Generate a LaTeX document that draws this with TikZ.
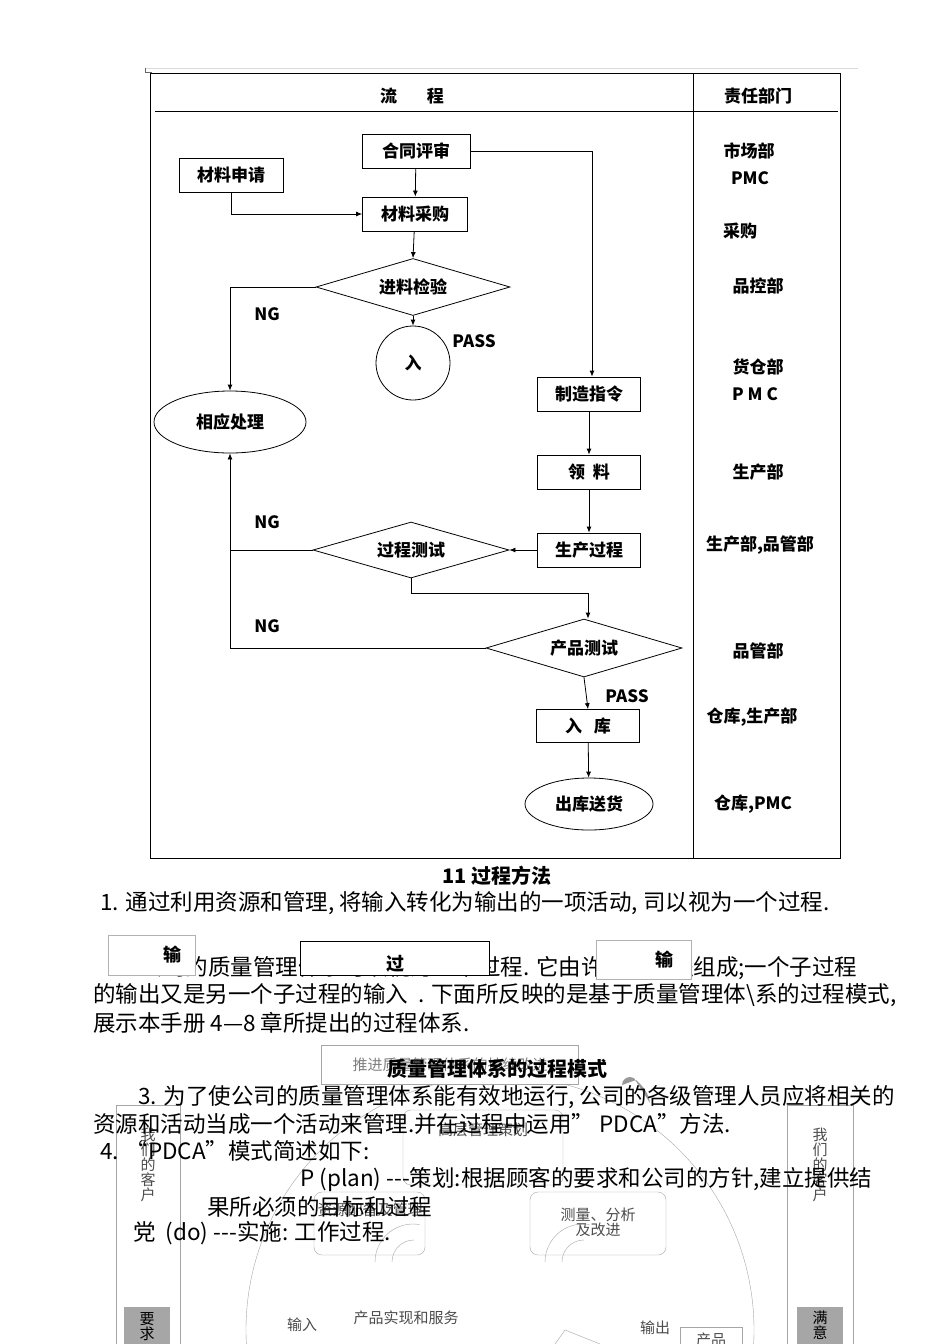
\documentclass[tikz,border=0pt]{standalone}
\usepackage{fontspec}
\setmainfont{Noto Sans CJK SC}
\newfontfamily\cjkb{Noto Sans CJK SC Black}
\usetikzlibrary{shapes.geometric,arrows.meta}
\begin{document}
\begin{tikzpicture}[x=1pt,y=-1pt,
  fc/.style={font=\cjkb\fontsize{17}{17}\selectfont},
  bx/.style={draw,thick,fc,minimum width=104pt,minimum height=34pt,inner sep=0pt},
  dm/.style={draw,thick,diamond,aspect=3.3,fc,minimum width=194pt,minimum height=57pt,inner sep=0pt},
  el/.style={draw,thick,ellipse,fc,inner sep=0pt},
  lb/.style={font=\cjkb\fontsize{17}{17}\selectfont},
  ar/.style={thick,-{Latex[length=6pt,width=5pt]}},
  ln/.style={thick},
  tx/.style={font=\fontsize{22.5}{22.5}\selectfont,anchor=west,inner sep=0pt},
  sm/.style={font=\fontsize{15}{15}\selectfont,text=black!70,inner sep=0pt},
  gr/.style={draw=black!35,thin}]
\useasboundingbox (0,0) rectangle (950,1344);
\fill[white] (0,0) rectangle (950,1344);
% frame
\draw[black!15] (145,68) -- (858,68);
\draw[black!60] (145,68) -- (145,72) -- (152,72);
\draw[thick] (150,73) rectangle (840,858);
\draw[thick] (693,73) -- (693,858);
\draw[thick] (155,111) -- (838,111);
\node[lb] (h1) at (412,96) {流\hspace{30pt}程};
\node[lb] (h2) at (758,96) {责任部门};
% nodes
\node[bx,minimum width=108pt] (ht) at (416,151) {合同评审};
\node[bx] (sq) at (231,175) {材料申请};
\node[bx,minimum width=105pt] (cg) at (415,214) {材料采购};
\node[dm] (jl) at (413,287) {进料检验};
\node[draw,thick,circle,minimum size=74pt,fc,inner sep=0pt] (ru) at (413,363) {入};
\node[el,minimum width=152pt,minimum height=62pt] (xy) at (230,422) {相应处理};
\node[bx,minimum width=103pt] (zz) at (589,394) {制造指令};
\node[bx,minimum width=103pt] (ll) at (589,472) {领\hspace{8pt}料};
\node[bx,minimum width=103pt] (sc) at (589,550) {生产过程};
\node[dm,minimum width=196pt,minimum height=56pt] (gc) at (411,550) {过程测试};
\node[dm,minimum width=196pt,minimum height=58pt] (cp) at (584,648) {产品测试};
\node[bx,minimum width=103pt,minimum height=33pt] (rk) at (588,726) {入\hspace{12pt}库};
\node[el,minimum width=128pt,minimum height=52pt] (ck) at (589,804) {出库送货};
% labels
\node[lb] (p1) at (474,341) {PASS};
\node[lb] (n1) at (267,314) {NG};
\node[lb] (n2) at (267,522) {NG};
\node[lb] (n3) at (267,626) {NG};
\node[lb] (p2) at (627,696) {PASS};
\node[lb] (d1) at (749,151) {市场部};
\node[lb] (d2) at (750,178) {PMC};
\node[lb] (d3) at (740,231) {采购};
\node[lb] (d4) at (758,286) {品控部};
\node[lb] (d5) at (758,367) {货仓部};
\node[lb] (d6) at (755,394) {P M C};
\node[lb] (d7) at (758,472) {生产部};
\node[lb] (d8) at (760,545) {生产部,品管部};
\node[lb] (d9) at (758,651) {品管部};
\node[lb] (d10) at (752,717) {仓库,生产部};
\node[lb] (d11) at (753,804) {仓库,PMC};
% connectors
\draw[ar] (ht) -- (cg);
\draw[ar] (sq.south) |- (cg.west);
\draw[ar] (cg) -- (jl.north);
\draw[ar] (jl.south) -- (ru.north);
\draw[ar] (ht.east) -| (zz.north-|592,0);
\draw[ar] (jl.west) -| (xy.north);
\draw[ar] (zz) -- (ll);
\draw[ar] (ll) -- (sc);
\draw[ar] (sc.west) -- (gc.east);
\draw[ar] (gc.west) -| (xy.south);
\coordinate (m1) at (411,593);
\draw[ar] (gc.south) -- (m1) -| (cp.north-|588,0);
\draw[ln] (cp.west) -| (xy.south|-gc.west);
\draw[ar] (cp.south) -- (rk.north);
\draw[ar] (rk) -- (ck);
% lower text
\node[font=\cjkb\fontsize{20}{20}\selectfont] (t11) at (497,876) {11 过程方法};
\node[tx] (l1) at (100,903) {1. 通过利用资源和管理, 将输入转化为输出的一项活动, 司以视为一个过程.};
\node[tx] (l2) at (115,968) {2. 公司的质量管理体系可以视为一个过程. 它由许多子过程组成;一个子过程};
\node[tx] (l3) at (93,995) {的输出又是另一个子过程的输入\ \ . 下面所反映的是基于质量管理体\textbackslash 系的过程模式,};
\node[tx] (l4) at (93,1023) {展示本手册 4—8 章所提出的过程体系.};
\node[draw=black!30,fill=white,minimum width=87pt,minimum height=40pt,font=\cjkb\fontsize{18}{18}\selectfont] (b1) at (152,955) {\hspace{40pt}输};
\node[draw,fill=white,minimum width=189pt,minimum height=34pt,font=\cjkb\fontsize{18}{18}\selectfont,text depth=-6pt] (b2) at (395,958) {\raisebox{-10pt}{过}};
\node[draw=black!30,fill=white,minimum width=95pt,minimum height=39pt,font=\cjkb\fontsize{18}{18}\selectfont] (b3) at (644,960) {\hspace{40pt}输};
% model diagram
\draw[gr] (500,1330) circle (254);
\node[gr,fill=white,minimum width=257pt,minimum height=39pt,sm,text=black!50] (kp) at (450,1065) {推进质量管理体系的持续改进};
\fill[black!40] (622,1085) arc (180:300:8) -- (650,1103) .. controls (648,1090) and (640,1084) .. (636,1080) -- cycle;
\draw[gr,fill=white] (116,1105) rectangle (180,1344);
\draw[gr,fill=white] (787,1105) rectangle (853,1344);
\node[sm,align=center] (kl) at (148,1165) {我\\们\\的\\客\\户};
\node[sm,align=center] (kr) at (820,1165) {我\\们\\的\\客\\户};
\node[fill=black!35,minimum width=46pt,minimum height=37pt,anchor=north,sm,text=black,align=center,text depth=0pt] (yq) at (147,1307) {要\\求};
\node[fill=black!35,minimum width=46pt,minimum height=37pt,anchor=north,sm,text=black,align=center] (my) at (820,1307) {满\\意};
\draw[gr,rounded corners=8pt,fill=white] (403,1110) rectangle (563,1185);
\node[sm] (gl) at (483,1130) {高层管理策划};
\draw[gr,rounded corners=8pt,fill=white] (314,1192) rectangle (425,1255);
\node[sm] (zy) at (370,1210) {资源配备及管理};
\draw[gr,rounded corners=8pt,fill=white] (530,1192) rectangle (666,1255);
\node[sm,align=center] (cl) at (598,1222) {测量、分析\\及改进};
\draw[gr] (392,1262) arc (180:270:22) ; \draw[gr] (562,1262) arc (180:270:22);
\draw[gr] (375,1262) arc (180:280:38); \draw[gr] (545,1262) arc (180:280:38);
\node[sm] (sr) at (302,1325) {输入};
\node[sm] (cs) at (406,1318) {产品实现和服务};
\node[sm] (sc2) at (655,1328) {输出};
\draw[gr] (680,1344) -- (680,1327) -- (742,1327) -- (742,1344);
\node[sm] (cpn) at (711,1340) {产品};
\draw[gr] (555,1344) -- (565,1330) -- (600,1344);
% overlay text
\node[font=\cjkb\fontsize{20}{20}\selectfont] (mt) at (497,1069) {质量管理体系的过程模式};
\node[tx] (l5) at (138,1097) {3. 为了使公司的质量管理体系能有效地运行, 公司的各级管理人员应将相关的};
\node[tx] (l6) at (93,1124) {资源和活动当成一个活动来管理.并在过程中运用” PDCA”方法.};
\node[tx] (l7) at (100,1151) {4. “PDCA”模式简述如下:};
\node[tx] (l8) at (300,1180) {P (plan) {-}{-}{-}策划:根据顾客的要求和公司的方针,建立提供结};
\node[tx] (l9) at (207,1207) {果所必须的目标和过程};
\node[tx] (l10) at (133,1233) {党\ \ (do) {-}{-}{-}实施: 工作过程.};
\end{tikzpicture}
\end{document}
